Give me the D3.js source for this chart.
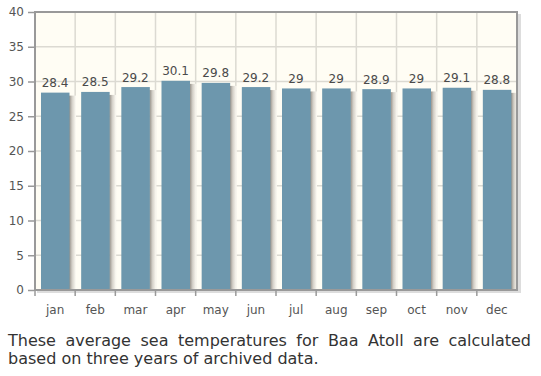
<!DOCTYPE html>
<html>
<head>
<meta charset="utf-8">
<script src="https://cdn.jsdelivr.net/npm/d3@7"></script>
<style>
  body { margin: 0; background: #fff; }
  #caption {
    position: absolute; left: 8px; top: 332px; width: 523px;
    font-family: "DejaVu Sans", Verdana, sans-serif; font-size: 16px;
    line-height: 17.5px; color: #333; text-align: justify;
  }
</style>
</head>
<body>
<svg id="chart" width="541" height="325"></svg>
<div id="caption">These average sea temperatures for Baa Atoll are calculated based on three years of archived data.</div>
<script>
let months = ["jan", "feb", "mar", "apr", "may", "jun", "jul", "aug", "sep", "oct", "nov", "dec"];
let temps = [28.4, 28.5, 29.2, 30.1, 29.8, 29.2, 29, 29, 28.9, 29, 29.1, 28.8];
let yTicks = [0, 5, 10, 15, 20, 25, 30, 35, 40];

let textColor = "#555";
let barColor = "#6d97ad";
let fontFam = "'DejaVu Sans', Verdana, sans-serif";

function drawBarChart(svgId) {
    let svg = d3.select(svgId);
    let left = 35, right = 517, top = 12, bottom = 290;

    let x = d3.scaleBand()
        .domain(months)
        .range([left, right]);
    let y = d3.scaleLinear()
        .domain([0, 40])
        .range([bottom, top]);

    // shadow gradient
    let defs = svg.append("defs");
    let grad = defs.append("linearGradient").attr("id", "shade");
    grad.append("stop").attr("offset", "0%").attr("stop-color", "#8f8a82");
    grad.append("stop").attr("offset", "45%").attr("stop-color", "#d4d0c8");
    grad.append("stop").attr("offset", "100%").attr("stop-color", "#fffdf6");

    // frame shadow
    svg.append("rect")
        .attr("x", left + 2).attr("y", top + 2)
        .attr("width", right - left + 2).attr("height", bottom - top + 1)
        .style("fill", "#ddd");

    // background
    svg.append("rect")
        .attr("x", left).attr("y", top)
        .attr("width", right - left).attr("height", bottom - top)
        .style("fill", "#fffdf4");

    // grid
    svg.append("g").selectAll("line")
        .data(yTicks)
        .enter().append("line")
        .attr("x1", left).attr("x2", right)
        .attr("y1", d => y(d)).attr("y2", d => y(d))
        .style("stroke", "#dcdad2").style("stroke-width", 1.5);
    svg.append("g").selectAll("line")
        .data(months.slice(1))
        .enter().append("line")
        .attr("x1", d => x(d)).attr("x2", d => x(d))
        .attr("y1", top).attr("y2", bottom)
        .style("stroke", "#dcdad2").style("stroke-width", 1.5);

    // bar shadows
    svg.append("g").selectAll("rect")
        .data(temps)
        .enter().append("rect")
        .attr("x", (d, i) => x(months[i]) + 34)
        .attr("y", d => y(d) + 3)
        .attr("width", 7)
        .attr("height", d => bottom - y(d) - 3)
        .style("fill", "url(#shade)");

    // bars
    svg.append("g").selectAll("rect")
        .data(temps)
        .enter().append("rect")
        .attr("x", (d, i) => x(months[i]) + 6)
        .attr("y", d => y(d))
        .attr("width", 28.5)
        .attr("height", d => bottom - y(d))
        .style("fill", barColor);

    // value labels
    svg.append("g").selectAll("text")
        .data(temps)
        .enter().append("text")
        .attr("x", (d, i) => x(months[i]) + 20)
        .attr("y", d => y(d) - 5.5)
        .attr("text-anchor", "middle")
        .text(d => d)
        .style("font-family", fontFam)
        .style("font-size", "12px")
        .style("fill", "#4a4a4a");

    // frame
    svg.append("rect")
        .attr("x", left).attr("y", top)
        .attr("width", right - left).attr("height", bottom - top)
        .style("fill", "none")
        .style("stroke", "#999").style("stroke-width", 2);

    // axes
    let yAxis = svg.append("g")
        .attr("transform", "translate(" + (left - 1) + ",0)")
        .call(d3.axisLeft(y).tickValues(yTicks).tickSize(6).tickPadding(4));
    yAxis.select(".domain").remove();
    yAxis.selectAll("line").style("stroke", "#999").style("stroke-width", 1.5);
    yAxis.selectAll("text").style("font-family", fontFam).style("font-size", "12px").style("fill", textColor);

    let xAxis = svg.append("g")
        .attr("transform", "translate(0," + (bottom + 1) + ")")
        .call(d3.axisBottom(x).tickSize(0).tickPadding(14));
    xAxis.select(".domain").remove();
    xAxis.selectAll("text").style("font-family", fontFam).style("font-size", "12px").style("fill", textColor);

    // x ticks at band edges
    svg.append("g").selectAll("line")
        .data(months)
        .enter().append("line")
        .attr("x1", d => x(d)).attr("x2", d => x(d))
        .attr("y1", bottom).attr("y2", bottom + 6)
        .style("stroke", "#999").style("stroke-width", 1.5);
}

drawBarChart("#chart");
</script>
</body>
</html>
